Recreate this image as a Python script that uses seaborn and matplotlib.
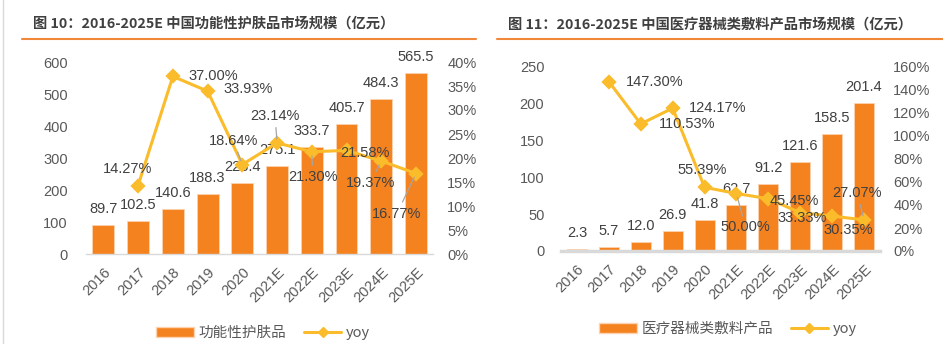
import numpy as np
import pandas as pd
import matplotlib
matplotlib.use("Agg")
import matplotlib.pyplot as plt
import seaborn as sns
from matplotlib.patches import Patch
from matplotlib.lines import Line2D
from matplotlib.ticker import FuncFormatter, MultipleLocator

# ---------------- data ----------------
years = ["2016", "2017", "2018", "2019", "2020", "2021E", "2022E", "2023E", "2024E", "2025E"]
skin_values = [89.7, 102.5, 140.6, 188.3, 223.4, 275.1, 333.7, 405.7, 484.3, 565.5]
skin_yoy = [np.nan, 14.27, 37.00, 33.93, 18.64, 23.14, 21.30, 21.58, 19.37, 16.77]
med_values = [2.3, 5.7, 12.0, 26.9, 41.8, 62.7, 91.2, 121.6, 158.5, 201.4]
med_yoy = [np.nan, 147.30, 110.53, 124.17, 55.39, 50.00, 45.45, 33.33, 30.35, 27.07]

title_left = "图 10：2016-2025E 中国功能性护肤品市场规模（亿元）"
title_right = "图 11：2016-2025E 中国医疗器械类敷料产品市场规模（亿元）"
legend_left = "功能性护肤品"
legend_right = "医疗器械类敷料产品"

# label offsets (pixels) for yoy labels, (dx, dy, leader)
left_yoy_off = [None, (-11, 17, False), (40, 0, False), (41, 2, False), (-9, 24, True),
                (-2, 27, True), (1, -25, True), (18, -3, False), (-11, -22, True), (-19, -40, True)]
right_yoy_off = [None, (46, 0, False), (46, 0, False), (45, 0, False), (-2, 17, False),
                 (9, -34, True), (26, -2, False), (2, -5, False), (16, -14, False), (-7, 27, True)]

BAR = "#F4821F"
LINE = "#FBBC2B"
TXT = "#404040"
TICK = "#595959"
FS = 10.5

sns.set_theme(style="white")
plt.rcParams["font.family"] = ["Liberation Sans", "Noto Sans CJK SC", "DejaVu Sans"]

fig = plt.figure(figsize=(9.43, 3.44), dpi=100)


def panel(rect, values, yoy, ymax, ystep, pmax, pstep, offs, spine_lw, lpad, rpad):
    ax = fig.add_axes(rect)
    df = pd.DataFrame({"year": years, "v": values, "yoy": yoy})
    sns.barplot(data=df, x="year", y="v", order=years, color=BAR, width=0.63,
                saturation=1, edgecolor="#FBD3B0", linewidth=0.6, ax=ax)
    ax.set_ylim(0, ymax)
    ax.yaxis.set_major_locator(MultipleLocator(ystep))
    ax.set_xlim(-0.5, len(years) - 0.5)
    ax.set_xlabel("")
    ax.set_ylabel("")
    for s in ["top", "right", "left"]:
        ax.spines[s].set_visible(False)
    ax.spines["bottom"].set_color("#D9D9D9")
    ax.spines["bottom"].set_linewidth(spine_lw)
    ax.tick_params(axis="both", length=0, labelsize=FS, colors=TICK)
    ax.tick_params(axis="x", pad=8)
    ax.tick_params(axis="y", pad=lpad)
    for lab in ax.get_xticklabels():
        lab.set_rotation(45)
        lab.set_ha("right")
        lab.set_rotation_mode("anchor")
    for i, v in enumerate(values):
        ax.annotate(f"{v:.1f}", xy=(i, v), xytext=(0, 16), textcoords="offset pixels",
                    ha="center", va="center", fontsize=FS, color=TXT)

    ax2 = ax.twinx()
    sns.pointplot(data=df, x="year", y="yoy", order=years, color=LINE, markers="D",
                  markersize=6.5, linewidth=2.2, errorbar=None, ax=ax2)
    ax2.set_ylim(0, pmax)
    ax2.set_xlim(-0.5, len(years) - 0.5)
    ax2.yaxis.set_major_locator(MultipleLocator(pstep))
    ax2.yaxis.set_major_formatter(FuncFormatter(lambda x, p: f"{x:.0f}%"))
    ax2.set_ylabel("")
    ax2.set_xlabel("")
    for s in ["top", "right", "left", "bottom"]:
        ax2.spines[s].set_visible(False)
    ax2.tick_params(axis="y", length=0, labelsize=FS, colors=TICK, pad=rpad)
    for i, y in enumerate(yoy):
        if offs[i] is None or np.isnan(y):
            continue
        dx, dy, leader = offs[i]
        kw = {}
        if leader:
            kw["arrowprops"] = dict(arrowstyle="-", color="#A6A6A6", lw=0.9,
                                    shrinkA=1, shrinkB=3)
        ax2.annotate(f"{y:.2f}%", xy=(i, y), xytext=(dx, dy), textcoords="offset pixels",
                     ha="center", va="center", fontsize=FS, color=TXT, **kw)
    return ax, ax2


panel([86 / 943, 1 - 254 / 344, (433.4 - 86) / 943, 192 / 344],
      skin_values, skin_yoy, 600, 100, 40, 5, left_yoy_off, 1.0, 13, 10)
panel([561 / 943, 1 - 251 / 344, (880 - 561) / 943, 184 / 344],
      med_values, med_yoy, 250, 50, 160, 20, right_yoy_off, 2.5, 12, 9.5)

# titles and decoration
fig.text(33 / 943, 1 - 24 / 344, title_left, fontsize=10.3, fontweight="bold",
         color="#404040", va="center", ha="left", family=["Noto Sans CJK SC", "DejaVu Sans"])
fig.text(508 / 943, 1 - 24 / 344, title_right, fontsize=10.3, fontweight="bold",
         color="#404040", va="center", ha="left", family=["Noto Sans CJK SC", "DejaVu Sans"])
fig.add_artist(Line2D([22 / 943, 476 / 943], [1 - 38.5 / 344] * 2, color="#F0883A", lw=1.5))
fig.add_artist(Line2D([497 / 943, 1.0], [1 - 38.5 / 344] * 2, color="#F0883A", lw=1.5))
fig.add_artist(Line2D([3 / 943, 3 / 943], [0, 1], color="#D9D9D9", lw=1.0))

# legends
def legend(label, center):
    handles = [Patch(facecolor=BAR, edgecolor="#FBD3B0", label=label),
               Line2D([0], [0], color=LINE, lw=2.2, marker="D", markersize=5, label="yoy")]
    leg = fig.legend(handles=handles, loc="center", bbox_to_anchor=center, ncol=2,
                     frameon=False, handlelength=2.6, handleheight=0.7,
                     columnspacing=1.2, handletextpad=0.3,
                     prop={"family": ["Noto Sans CJK SC", "DejaVu Sans"], "size": 10.5})
    for t in leg.get_texts():
        t.set_color(TICK)

legend(legend_left, (263 / 943, 1 - 333 / 344))
legend(legend_right, (728 / 943, 1 - 329 / 344))

fig.savefig("out.png", dpi=100, facecolor="white")
